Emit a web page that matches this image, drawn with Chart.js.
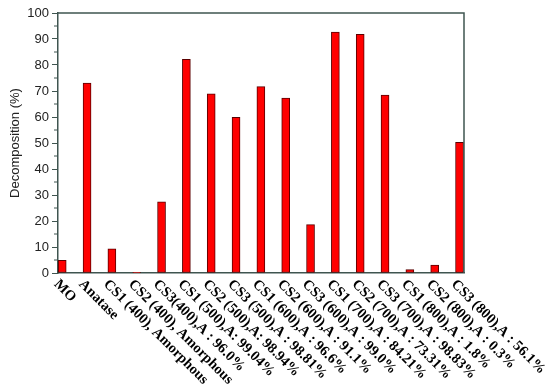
<!DOCTYPE html>
<html>
<head>
<meta charset="utf-8">
<script src="https://cdn.jsdelivr.net/npm/chart.js@4"></script>
<style>
  body { margin: 0; background: #fff; }
  #wrap { width: 550px; height: 392px; }
</style>
</head>
<body>
<div id="wrap"><canvas id="chart" width="550" height="392"></canvas></div>
<script>
const categories = [
    'MO', 'Anatase', 'CS1 (400), Amorphous', 'CS2 (400), Amorphous', 'CS3(400),A : 96.0%',
    'CS1 (500),A: 99.04%', 'CS2 (500),A: 98.94%', 'CS3 (500),A : 98.81%', 'CS1 (600),A : 96.6%',
    'CS2 (600),A : 91.1%', 'CS3 (600),A : 99.0%', 'CS1 (700),A : 84.21%', 'CS2 (700),A : 73.31%',
    'CS3 (700),A : 98.83%', 'CS1 (800),A : 1.8%', 'CS2 (800),A : 0.3%', 'CS3 (800),A : 56.1%'
];
const decomposition = [4.9, 73.0, 9.3, 0.3, 27.4, 82.2, 68.9, 59.9, 71.7, 67.3, 18.6, 92.7, 91.8, 68.4, 1.3, 3.0, 50.3];
const yTicks = [0, 10, 20, 30, 40, 50, 60, 70, 80, 90, 100];

const frameColor = '#3f5550';

// frame, minor ticks and slanted category labels
const framePlugin = {
    id: 'frame',
    afterDraw: (chart) => {
        const ctx = chart.ctx;
        const a = chart.chartArea;
        const y = chart.scales.y;
        const x = chart.scales.x;
        ctx.save();
        ctx.strokeStyle = frameColor;
        ctx.lineWidth = 1.5;
        ctx.beginPath();
        ctx.moveTo(a.left, a.top);
        ctx.lineTo(a.right, a.top);
        ctx.lineTo(a.right, a.bottom);
        ctx.stroke();
        // minor ticks
        ctx.lineWidth = 1;
        for (let i = 0; i < yTicks.length - 1; i++) {
            const py = y.getPixelForValue((yTicks[i] + yTicks[i + 1]) / 2);
            ctx.beginPath();
            ctx.moveTo(a.left - 4, py);
            ctx.lineTo(a.left, py);
            ctx.stroke();
        }
        // category labels
        ctx.fillStyle = '#000';
        ctx.font = 'bold 14.5px "Liberation Serif", "Times New Roman", serif';
        ctx.textAlign = 'left';
        ctx.textBaseline = 'top';
        categories.forEach((c, i) => {
            const px = x.getPixelForValue(i);
            ctx.save();
            ctx.translate(px - 1, a.bottom + 4);
            ctx.rotate(Math.PI / 4);
            ctx.fillText(c, 0, 0);
            ctx.restore();
        });
        ctx.restore();
    }
};

new Chart(document.getElementById('chart').getContext('2d'), {
    type: 'bar',
    data: {
        datasets: [{
            data: categories.map((c, i) => ({ x: i, y: decomposition[i] })),
            backgroundColor: '#ff0000',
            borderColor: '#5a0000',
            borderWidth: 1,
            borderSkipped: false,
            barThickness: 8
        }]
    },
    options: {
        responsive: false,
        animation: false,
        layout: { padding: { top: 13, right: 86, left: 0, bottom: 0 } },
        plugins: { legend: { display: false }, tooltip: { enabled: false } },
        scales: {
            x: {
                type: 'linear',
                offset: false,
                min: -0.17,
                max: 16.18,
                ticks: { display: false },
                grid: { display: false },
                border: { color: frameColor, width: 1.5 },
                afterFit: (scale) => { scale.height = 119; }
            },
            y: {
                min: 0,
                max: 100,
                afterBuildTicks: (scale) => { scale.ticks = yTicks.map(v => ({ value: v })); },
                ticks: {
                    color: '#222',
                    padding: 3,
                    font: { family: 'Arial, "Liberation Sans", sans-serif', size: 13 }
                },
                grid: { drawOnChartArea: false, tickLength: 6, color: frameColor },
                border: { color: frameColor, width: 1.5 },
                title: {
                    display: true,
                    text: 'Decomposition (%)',
                    color: '#222',
                    padding: { top: 8, bottom: 0 },
                    font: { family: 'Arial, "Liberation Sans", sans-serif', size: 13 }
                },
                afterFit: (scale) => { scale.width = 58; }
            }
        }
    },
    plugins: [framePlugin]
});
</script>
</body>
</html>
